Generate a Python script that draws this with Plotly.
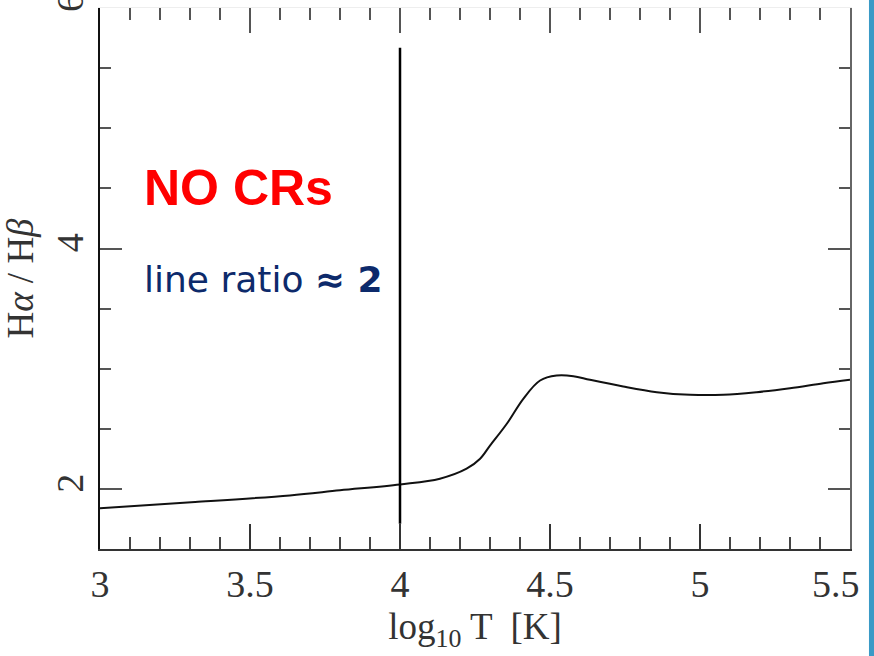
import plotly.graph_objects as go

# Halpha/Hbeta line ratio vs log10 T (no cosmic rays)
log_t = [3.0, 3.317, 3.633, 3.8, 4.0, 4.133, 4.222, 4.267, 4.3, 4.356, 4.411,
         4.467, 4.522, 4.578, 4.633, 4.744, 4.856, 4.967, 5.078, 5.189, 5.3,
         5.411, 5.5]
ratio = [1.840, 1.890, 1.946, 1.988, 2.037, 2.085, 2.168, 2.251, 2.36, 2.542,
         2.750, 2.902, 2.943, 2.938, 2.908, 2.852, 2.805, 2.783, 2.783, 2.805,
         2.838, 2.879, 2.908]

vline_x = [4.0, 4.0]
vline_y = [1.71, 5.67]

x_tickvals = [3.0, 3.5, 4.0, 4.5, 5.0, 5.5]
x_ticklabels = ["3", "3.5", "4", "4.5", "5", "5.5"]
y_tickvals = [2, 4, 6]
y_ticklabels = ["2", "4", "6"]

x_range = [3.0, 5.5]
y_range = [1.5, 6.001]

serif = "Liberation Serif"

# keep the right-most label inside the frame, as in the original
x_ticktext = list(x_ticklabels)
x_ticktext[-1] = x_ticktext[-1] + "&nbsp;&nbsp;&nbsp;"

fig = go.Figure()
fig.add_trace(go.Scatter(x=log_t, y=ratio, mode="lines",
                         line=dict(color="#111111", width=2, shape="spline"),
                         showlegend=False, hoverinfo="skip"))
fig.add_trace(go.Scatter(x=vline_x, y=vline_y, mode="lines",
                         line=dict(color="#000000", width=2.5),
                         showlegend=False, hoverinfo="skip"))
# invisible helper trace so the top / right mirror axes are drawn
fig.add_trace(go.Scatter(x=x_range, y=y_range, mode="lines", xaxis="x2", yaxis="y2",
                         line=dict(width=0), opacity=0,
                         showlegend=False, hoverinfo="skip"))

fig.update_layout(
    width=874, height=656,
    margin=dict(l=100, r=24, t=8, b=107),
    paper_bgcolor="white", plot_bgcolor="white",
    xaxis=dict(
        range=x_range, tickmode="array", tickvals=x_tickvals, ticktext=x_ticktext,
        showgrid=False, zeroline=False, automargin=False,
        showline=True, linecolor="#333333", linewidth=2, mirror=False,
        ticks="inside", ticklen=25, tickwidth=1.5, tickcolor="#333333",
        minor=dict(dtick=0.1, ticks="inside", ticklen=12, tickwidth=1.5,
                   tickcolor="#444444", showgrid=False),
        tickfont=dict(family=serif, size=38, color="#333333"),
        ticklabeloverflow="allow",
        title=dict(text="log<sub>10</sub> T  [K]", standoff=10,
                   font=dict(family=serif, size=37, color="#333333")),
    ),
    xaxis2=dict(
        range=x_range, overlaying="x", side="top", tickmode="array",
        tickvals=x_tickvals, automargin=False,
        showgrid=False, zeroline=False, showticklabels=False,
        showline=True, linecolor="#eeeeee", linewidth=1,
        ticks="inside", ticklen=25, tickwidth=1.5, tickcolor="#555555",
        minor=dict(dtick=0.1, ticks="inside", ticklen=12, tickwidth=1.5,
                   tickcolor="#555555", showgrid=False),
    ),
    yaxis=dict(
        range=y_range, tickmode="array", tickvals=y_tickvals, ticktext=y_ticklabels,
        showgrid=False, zeroline=False, automargin=False,
        showline=True, linecolor="#111111", linewidth=2, mirror=False,
        ticks="inside", ticklen=22, tickwidth=1.5, tickcolor="#555555",
        minor=dict(dtick=0.5, ticks="inside", ticklen=11, tickwidth=1.5,
                   tickcolor="#555555", showgrid=False),
        tickangle=-90, ticklabeloverflow="allow",
        tickfont=dict(family=serif, size=38, color="#333333"),
        title=dict(text="H<i>α</i> / H<i>β</i>", standoff=8,
                   font=dict(family=serif, size=37, color="#333333")),
    ),
    yaxis2=dict(
        range=y_range, overlaying="y", side="right", tickmode="array",
        tickvals=y_tickvals, automargin=False,
        showgrid=False, zeroline=False, showticklabels=False,
        showline=True, linecolor="#666666", linewidth=2,
        ticks="inside", ticklen=22, tickwidth=1.5, tickcolor="#555555",
        minor=dict(dtick=0.5, ticks="inside", ticklen=11, tickwidth=1.5,
                   tickcolor="#555555", showgrid=False),
    ),
    annotations=[
        dict(text="<b>NO CRs</b>", x=3.14, y=4.5, xref="x", yref="y",
             xanchor="left", yanchor="middle", showarrow=False,
             font=dict(family="Liberation Sans", size=50, color="#ff0000")),
        dict(text="line ratio <b>≈ 2</b>", x=3.14, y=3.74, xref="x", yref="y",
             xanchor="left", yanchor="middle", showarrow=False,
             font=dict(family="DejaVu Sans", size=36, color="#0d2a6b")),
    ],
    shapes=[
        dict(type="rect", xref="paper", yref="paper", x0=1.0253, x1=1.04,
             y0=-0.3, y1=1.1, fillcolor="#3a9ac6", line=dict(width=0),
             layer="above"),
    ],
)

fig.write_html("out.html")
